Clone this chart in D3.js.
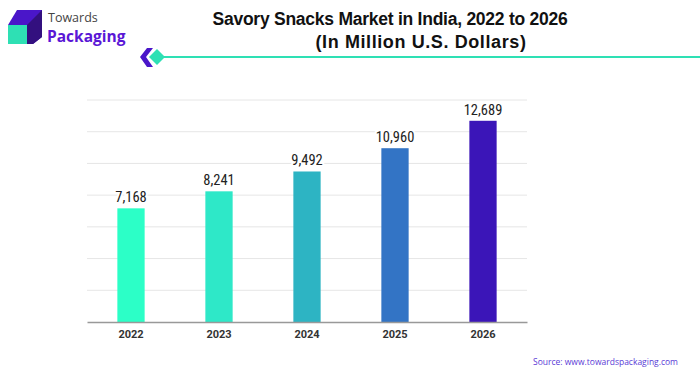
<!DOCTYPE html>
<html>
<head>
<meta charset="utf-8">
<script src="https://cdn.jsdelivr.net/npm/d3@7"></script>
<style>
  body { margin: 0; background: #fff; }
  svg { display: block; font-family: Roboto, "Liberation Sans", sans-serif; }
</style>
</head>
<body>
<div id="chart"></div>
<script>
// data
var years = ["2022", "2023", "2024", "2025", "2026"];
var values = [7168, 8241, 9492, 10960, 12689];
var yTicks = [0, 2000, 4000, 6000, 8000, 10000, 12000, 14000];
var barColors = ["#2cffc7", "#2ee8c8", "#2db4c3", "#3374c5", "#3b15b8"];

var svgWidth = 700;
var svgHeight = 375;

var margin = { top: 100, right: 173, bottom: 53, left: 87 };
var width = svgWidth - margin.left - margin.right;
var height = svgHeight - margin.top - margin.bottom;

var svg = d3.select("#chart")
  .append("svg")
  .attr("width", svgWidth)
  .attr("height", svgHeight);

// logo
var logo = svg.append("g");
logo.append("polygon")
  .attr("points", "8,25 17,10 42,10 42,37 33,44 8,44")
  .attr("fill", "#4a16c9");
logo.append("polygon")
  .attr("points", "27,25 42,10 42,37 33,44 27,44")
  .attr("fill", "#33107f");
logo.append("rect")
  .attr("x", 8).attr("y", 25).attr("width", 19).attr("height", 19)
  .attr("fill", "#2ee0b4");
logo.append("text")
  .attr("x", 48).attr("y", 22)
  .attr("font-family", "'Open Sans', sans-serif")
  .attr("font-size", "12.5px")
  .attr("fill", "#444")
  .text("Towards");
logo.append("text")
  .attr("x", 47).attr("y", 42)
  .attr("font-family", "'Open Sans', sans-serif")
  .attr("font-size", "15.5px")
  .attr("font-weight", "bold")
  .attr("fill", "#5a16d6")
  .text("Packaging");

// title
svg.append("text")
  .attr("x", 390).attr("y", 25)
  .attr("text-anchor", "middle")
  .attr("font-family", "'Liberation Sans', Arial, sans-serif")
  .attr("font-size", "17.5px")
  .attr("font-weight", "bold")
  .attr("letter-spacing", "-0.25px")
  .attr("fill", "#111")
  .text("Savory Snacks Market in India, 2022 to 2026");
svg.append("text")
  .attr("x", 421).attr("y", 48)
  .attr("text-anchor", "middle")
  .attr("font-family", "'Liberation Sans', Arial, sans-serif")
  .attr("font-size", "18px")
  .attr("font-weight", "bold")
  .attr("letter-spacing", "0.6px")
  .attr("fill", "#111")
  .text("(In Million U.S. Dollars)");

// decorative line + icon
svg.append("line")
  .attr("x1", 160).attr("x2", 700)
  .attr("y1", 57).attr("y2", 57)
  .attr("stroke", "#2ee0b4")
  .attr("stroke-width", 2);
svg.append("polygon")
  .attr("points", "147,48 153,48 146,57 153,67 147,67 140,57")
  .attr("fill", "#4a16c9");
svg.append("polygon")
  .attr("points", "157,49 165,57 157,65 149,57")
  .attr("fill", "#2ee0b4");

var chartGroup = svg.append("g")
  .attr("transform", `translate(${margin.left}, ${margin.top})`);

var xBandScale = d3.scaleBand()
  .domain(years)
  .range([0, width])
  .paddingInner(0.69)
  .paddingOuter(0.345);

var yLinearScale = d3.scaleLinear()
  .domain([0, 14000])
  .range([height, 0]);

// gridlines
chartGroup.append("g")
  .selectAll("line")
  .data(yTicks.slice(1))
  .enter()
  .append("line")
  .attr("x1", 0).attr("x2", width)
  .attr("y1", d => yLinearScale(d)).attr("y2", d => yLinearScale(d))
  .attr("stroke", "#e6e6e6")
  .attr("stroke-width", 1);

// bars
chartGroup.selectAll("rect.bar")
  .data(values)
  .enter()
  .append("rect")
  .attr("class", "bar")
  .attr("x", (d, i) => xBandScale(years[i]))
  .attr("y", d => yLinearScale(d))
  .attr("width", xBandScale.bandwidth())
  .attr("height", d => height - yLinearScale(d))
  .attr("fill", (d, i) => barColors[i]);

// x axis
var bottomAxis = d3.axisBottom(xBandScale).tickSize(0).tickPadding(8);
var xAxis = chartGroup.append("g")
  .attr("transform", `translate(0, ${height})`)
  .call(bottomAxis);
xAxis.select(".domain").attr("stroke", "#999").attr("stroke-width", 1.5);
xAxis.selectAll("text")
  .attr("font-size", "11px")
  .attr("font-weight", "bold")
  .attr("fill", "#333")
  .attr("font-family", "Roboto, sans-serif");

// value labels with white halo
chartGroup.selectAll("text.val")
  .data(values)
  .enter()
  .append("text")
  .attr("class", "val")
  .attr("x", (d, i) => xBandScale(years[i]) + xBandScale.bandwidth() / 2)
  .attr("y", d => yLinearScale(d) - 6)
  .attr("text-anchor", "middle")
  .attr("font-family", "'Liberation Sans Narrow', 'Roboto Condensed', Roboto, sans-serif")
  .attr("font-size", "14.5px")
  .attr("fill", "#222")
  .attr("stroke", "#fff")
  .attr("stroke-width", 4)
  .attr("paint-order", "stroke")
  .text(d => d3.format(",")(d));

// source
svg.append("text")
  .attr("x", 678).attr("y", 365)
  .attr("text-anchor", "end")
  .attr("font-family", "'Open Sans', sans-serif")
  .attr("font-size", "8.5px")
  .attr("fill", "#5a3ad6")
  .text("Source: www.towardspackaging.com");
</script>
</body>
</html>
